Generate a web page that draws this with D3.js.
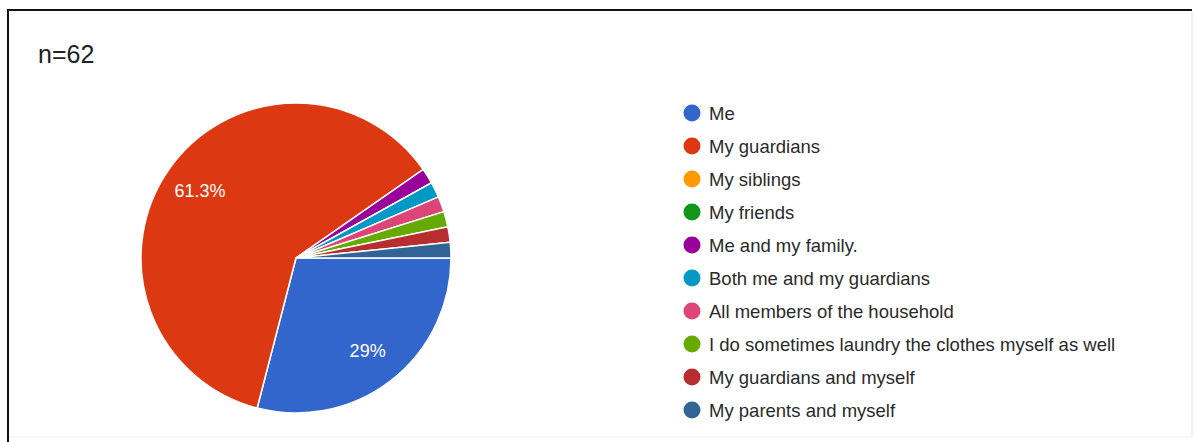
<!DOCTYPE html>
<html>
<head>
<meta charset="utf-8">
<script src="https://cdn.jsdelivr.net/npm/d3@7"></script>
<style>
  html, body { margin: 0; padding: 0; background: #fff; }
  svg { display: block; }
</style>
</head>
<body>
<svg id="chart" width="1197" height="442"></svg>
<script>
// Who does the laundry in your household? (n = 62 responses)
const categories = [
  "Me",
  "My guardians",
  "My siblings",
  "My friends",
  "Me and my family.",
  "Both me and my guardians",
  "All members of the household",
  "I do sometimes laundry the clothes myself as well",
  "My guardians and myself",
  "My parents and myself"
];
const counts = [18, 38, 0, 0, 1, 1, 1, 1, 1, 1];
const colors = ["#3366cc", "#dc3912", "#ff9900", "#109618", "#990099",
                "#0099c6", "#dd4477", "#66aa00", "#b82e2e", "#316395"];
const titleText = "n=62";

const data = categories.map((c, i) => ({ label: c, value: counts[i], color: colors[i] }));
const total = d3.sum(counts);

const svg = d3.select("#chart");
const W = 1197, H = 442;
const font = "Liberation Sans, Arial, sans-serif";

// frame
svg.append("line").attr("x1", 8).attr("x2", 1192).attr("y1", 10).attr("y2", 10)
  .attr("stroke", "#111").attr("stroke-width", 2);
svg.append("line").attr("x1", 8).attr("x2", 8).attr("y1", 9).attr("y2", H)
  .attr("stroke", "#111").attr("stroke-width", 2);
svg.append("line").attr("x1", 1192).attr("x2", 1192).attr("y1", 11).attr("y2", 437)
  .attr("stroke", "#e4e4e4").attr("stroke-width", 1);
svg.append("line").attr("x1", 9).attr("x2", 1192).attr("y1", 437).attr("y2", 437)
  .attr("stroke", "#eeeeee").attr("stroke-width", 1);

// title
svg.append("text").attr("x", 38).attr("y", 63)
  .attr("font-family", font)
  .attr("font-size", 25).attr("fill", "#222")
  .text(titleText);

// pie
const cx = 296, cy = 258, r = 155;
const pie = d3.pie().value(d => d.value).sort(null)
  .startAngle(Math.PI / 2).endAngle(Math.PI / 2 + 2 * Math.PI);
const arcs = pie(data).filter(d => d.data.value > 0);
const arc = d3.arc().innerRadius(0).outerRadius(r);
const labelArc = d3.arc().innerRadius(r * 0.755).outerRadius(r * 0.755);

const g = svg.append("g").attr("transform", `translate(${cx},${cy})`);
g.selectAll("path.slice").data(arcs).enter().append("path")
  .attr("class", "slice")
  .attr("d", arc)
  .attr("fill", d => d.data.color)
  .attr("stroke", "#fff").attr("stroke-width", 1.5);

const fmt = v => {
  const p = Math.round(v / total * 1000) / 10;
  return (p % 1 === 0 ? p.toFixed(0) : p.toFixed(1)) + "%";
};
g.selectAll("text.pct").data(arcs.filter(d => d.data.value / total > 0.05)).enter()
  .append("text").attr("class", "pct")
  .attr("transform", d => `translate(${labelArc.centroid(d)})`)
  .attr("text-anchor", "middle").attr("dy", "0.35em")
  .attr("font-family", font)
  .attr("font-size", 18).attr("fill", "#fff")
  .text(d => fmt(d.data.value));

// legend
const legendY = d3.scalePoint().domain(categories).range([113, 410]);
const lg = svg.append("g");
const rows = lg.selectAll("g.row").data(data).enter().append("g")
  .attr("class", "row")
  .attr("transform", d => `translate(692,${legendY(d.label)})`);
rows.append("circle").attr("r", 8.5).attr("fill", d => d.color);
rows.append("text").attr("x", 17).attr("dy", "0.36em")
  .attr("font-family", font)
  .attr("font-size", 18.5).attr("fill", "#2a2a2a")
  .text(d => d.label);
</script>
</body>
</html>
